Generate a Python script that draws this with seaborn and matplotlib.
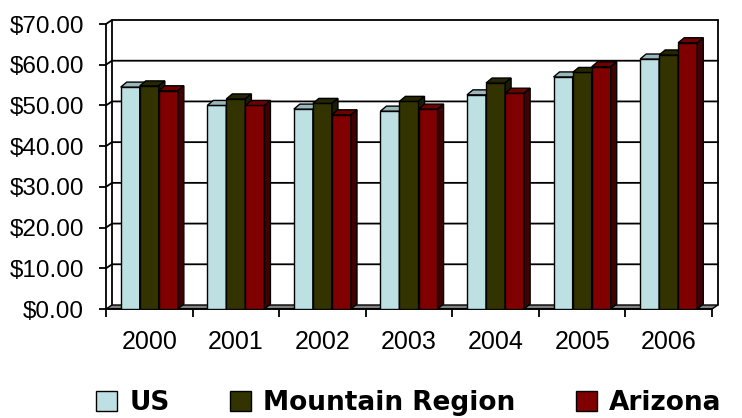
import numpy as np
import pandas as pd
import matplotlib
matplotlib.use('Agg')
import matplotlib.pyplot as plt
from matplotlib.patches import Polygon
from matplotlib.ticker import FuncFormatter, FixedLocator
import seaborn as sns

# data
years = ['2000', '2001', '2002', '2003', '2004', '2005', '2006']
regions = ['US', 'Mountain Region', 'Arizona']
us = [54.5, 50.0, 49.1, 48.6, 52.6, 57.0, 61.4]
mountain = [54.8, 51.6, 50.5, 51.0, 55.5, 58.1, 62.4]
arizona = [53.6, 50.0, 47.7, 49.1, 53.0, 59.5, 65.4]

front_cols = ['#BDE0E3', '#333300', '#800000']
top_cols = ['#9AB8BB', '#262600', '#6E0000']
side_cols = ['#7F9A9C', '#1C1C00', '#420000']

df = pd.DataFrame({
    'year': years * 3,
    'region': np.repeat(regions, len(years)),
    'value': us + mountain + arizona,
})

sns.set_theme(style='white')
plt.rcParams['font.family'] = ['Liberation Sans', 'DejaVu Sans']
plt.rcParams['text.color'] = 'black'

W, H = 742, 418
fig = plt.figure(figsize=(W / 100, H / 100), dpi=100)
ax = fig.add_axes([106 / W, (H - 309) / H, 606 / W, 285 / H])

sns.barplot(data=df, x='year', y='value', hue='region', hue_order=regions,
            palette=front_cols, width=0.66, edgecolor='black', linewidth=1,
            saturation=1, ax=ax)

ax.set_xlim(-0.5, 6.5)
ax.set_ylim(0, 70)

# pseudo 3d depth, in data units (about 6 px right, 5 px up)
dx = 6 * 7 / 606
dy = 5 * 70 / 285
wall_dy = 4 * 70 / 285

# bar faces, left to right so each bar covers its neighbour's side
bars = sorted([p for p in ax.patches if p.get_height() > 0], key=lambda p: p.get_x())
for i, p in enumerate(bars):
    hx = matplotlib.colors.to_hex(p.get_facecolor()).upper()
    col = front_cols.index(hx) if hx in front_cols else 0
    x0, w, h = p.get_x(), p.get_width(), p.get_height()
    z = 3 + i * 0.01
    p.set_zorder(z)
    top = Polygon([(x0, h), (x0 + w, h), (x0 + w + dx, h + dy), (x0 + dx, h + dy)],
                  closed=True, facecolor=top_cols[col], edgecolor='black', lw=1, zorder=z)
    side = Polygon([(x0 + w, 0), (x0 + w + dx, dy), (x0 + w + dx, h + dy), (x0 + w, h)],
                   closed=True, facecolor=side_cols[col], edgecolor='black', lw=1, zorder=z)
    ax.add_patch(top)
    ax.add_patch(side)

# back wall gridlines with the little diagonals on the left wall
x_lo, x_hi = -0.5, 6.5
for v in range(10, 80, 10):
    ax.plot([x_lo, x_lo + dx, x_hi + dx], [v, v + wall_dy, v + wall_dy],
            color='black', lw=1.3, zorder=1, clip_on=False)
ax.plot([x_lo + dx, x_lo + dx], [wall_dy, 70 + wall_dy], color='black', lw=1.3,
        zorder=1, clip_on=False)
ax.plot([x_hi + dx, x_hi + dx], [wall_dy, 70 + wall_dy], color='black', lw=1.3,
        zorder=1, clip_on=False)

# floor
floor = Polygon([(x_lo, 0), (x_hi, 0), (x_hi + dx, wall_dy), (x_lo + dx, wall_dy)],
                closed=True, facecolor='#808080', edgecolor='black', lw=1,
                zorder=2, clip_on=False)
ax.add_patch(floor)

for s in ['top', 'right']:
    ax.spines[s].set_visible(False)
for s in ['left', 'bottom']:
    ax.spines[s].set_color('black')
    ax.spines[s].set_linewidth(1.3)

ax.yaxis.set_major_locator(FixedLocator(range(0, 80, 10)))
ax.yaxis.set_major_formatter(FuncFormatter(lambda v, _: '${:.2f}'.format(v)))
ax.tick_params(axis='y', direction='out', length=5, width=1.3, color='black',
               labelsize=17.5, pad=11, labelcolor='black', left=True)
ax.set_xticks(range(len(years)))
ax.set_xticklabels(years)
ax.set_xticks(np.arange(-0.5, 7, 1), minor=True)
ax.tick_params(axis='x', which='major', length=0, labelsize=18, pad=15, labelcolor='black')
ax.tick_params(axis='x', which='minor', direction='out', length=6, width=1.3,
               color='black', bottom=True)
ax.set_xlabel('')
ax.set_ylabel('')

handles, labels = ax.get_legend_handles_labels()
ax.get_legend().remove()
leg = fig.legend(handles, labels, loc='center', bbox_to_anchor=(409 / W, 1 - 403 / H),
                 ncol=3, frameon=False,
                 prop=dict(family='DejaVu Sans', weight='bold', size=19),
                 handlelength=0.8, handleheight=0.8, handletextpad=0.45,
                 columnspacing=2.3)
for t in leg.get_texts():
    t.set_color('black')

fig.savefig('out.png', dpi=100)
